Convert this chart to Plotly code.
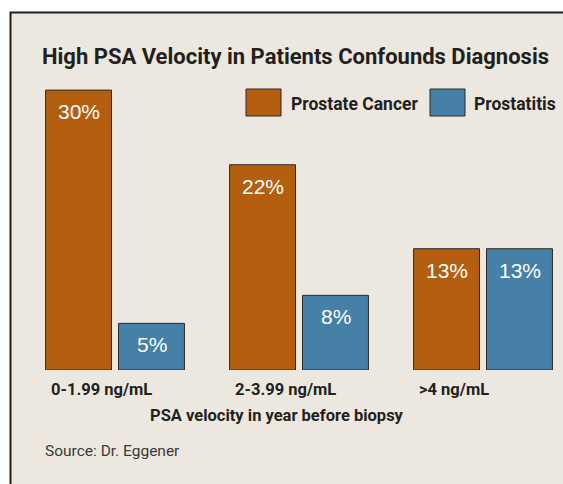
import plotly.graph_objects as go

categories = ["0-1.99 ng/mL", "2-3.99 ng/mL", ">4 ng/mL"]
cancer = [30, 22, 13]
prostatitis = [5, 8, 13]
series_names = ["Prostate Cancer", "Prostatitis"]

ORANGE = "#b45e10"
BLUE = "#4680a6"
DARK = "#231f20"
BG = "#ece8df"
NARROW = "Roboto, Liberation Sans Narrow, DejaVu Sans Condensed, sans-serif"

W, H = 563, 484
L, R, T, B = 23, 0, 71, 114
PW, PH = W - L - R, H - T - B


def px(x):
    return (x - L) / PW


def py(y):
    return (H - B - y) / PH


fig = go.Figure()
for name, vals, col in [(series_names[0], cancer, ORANGE), (series_names[1], prostatitis, BLUE)]:
    fig.add_trace(go.Bar(
        x=categories, y=vals, name=name,
        marker=dict(color=col, line=dict(color="#2a2a2a", width=1)),
        showlegend=False, hoverinfo="x+y",
    ))

annotations = []
for i, cat in enumerate(categories):
    for vals, shift in [(cancer, -36.5), (prostatitis, 36.5)]:
        annotations.append(dict(
            x=cat, y=vals[i], xref="x", yref="y", text=f"{vals[i]}%",
            showarrow=False, yanchor="top", xanchor="center",
            xshift=shift, yshift=-8,
            font=dict(family="Liberation Sans, Arial, sans-serif", size=21, color="white"),
        ))
    annotations.append(dict(
        x=cat, y=0, xref="x", yref="y", text=f"<b>{cat}</b>",
        showarrow=False, yanchor="top", xanchor="left", xshift=-66, yshift=-8,
        font=dict(family=NARROW, size=16.5, color=DARK),
    ))

annotations += [
    dict(x=px(277), y=py(415), xref="paper", yref="paper",
         text="<b>PSA velocity in year before biopsy</b>", showarrow=False,
         xanchor="center", yanchor="middle", font=dict(family=NARROW, size=16.5, color=DARK)),
    dict(x=px(43), y=py(451), xref="paper", yref="paper",
         text="Source: Dr. Eggener", showarrow=False,
         xanchor="left", yanchor="middle",
         font=dict(family=NARROW, size=15.5, color="#3a3a3a")),
    dict(x=px(289), y=py(104), xref="paper", yref="paper",
         text=f"<b>{series_names[0]}</b>", showarrow=False,
         xanchor="left", yanchor="middle", font=dict(family=NARROW, size=17.5, color=DARK)),
    dict(x=px(472), y=py(104), xref="paper", yref="paper",
         text=f"<b>{series_names[1]}</b>", showarrow=False,
         xanchor="left", yanchor="middle", font=dict(family=NARROW, size=17.5, color=DARK)),
]

shapes = [
    dict(type="rect", xref="paper", yref="paper", layer="below",
         x0=px(10.5), x1=px(620), y0=py(12.5), y1=py(560),
         fillcolor=BG, line=dict(color=DARK, width=2)),
    dict(type="rect", xref="paper", yref="paper",
         x0=px(246), x1=px(281), y0=py(116), y1=py(89),
         fillcolor=ORANGE, line=dict(color="#2a2a2a", width=1)),
    dict(type="rect", xref="paper", yref="paper",
         x0=px(430), x1=px(465), y0=py(116), y1=py(89),
         fillcolor=BLUE, line=dict(color="#2a2a2a", width=1)),
]

fig.update_layout(
    width=W, height=H,
    margin=dict(l=L, r=R, t=T, b=B, pad=0),
    paper_bgcolor="white", plot_bgcolor="rgba(0,0,0,0)",
    barmode="group", bargap=0.207, bargroupgap=0.096,
    title=dict(text="<b>High PSA Velocity in Patients Confounds Diagnosis</b>",
               x=42 / W, xanchor="left", y=1 - 56 / H, yanchor="middle",
               font=dict(family=NARROW, size=22, color=DARK)),
    xaxis=dict(range=[-0.5, -0.5 + PW / 184], showticklabels=False, showgrid=False,
               zeroline=False, showline=False, ticks=""),
    yaxis=dict(range=[0, PH / 9.33], visible=False, showgrid=False, zeroline=False),
    annotations=annotations, shapes=shapes,
)

fig.write_html(
    "out.html",
    config={"displayModeBar": False},
    post_script="document.body.style.margin='0';document.body.style.overflow='hidden';",
)
